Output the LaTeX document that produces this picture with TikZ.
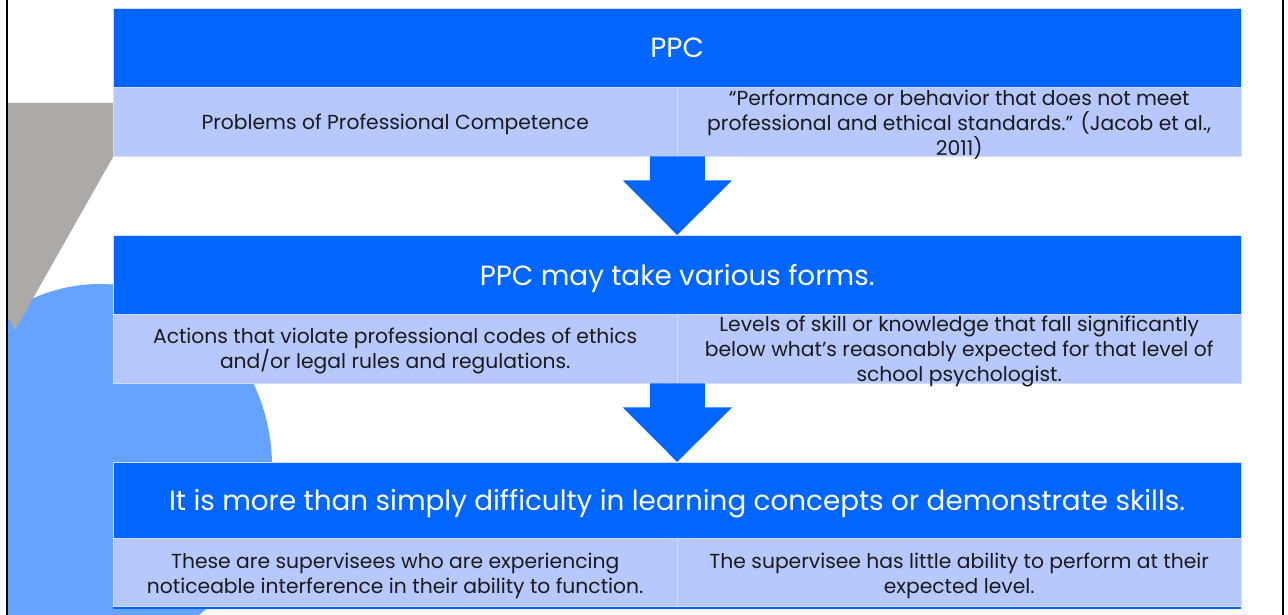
\documentclass[tikz,border=0pt]{standalone}
\usepackage{fontspec}
\setmainfont{Poppins}
\usetikzlibrary{calc}

\definecolor{hdrblue}{HTML}{0066FF}
\definecolor{cellblue}{HTML}{B7C8FF}
\definecolor{celledge}{HTML}{D3DDFF}
\definecolor{wedgegray}{HTML}{ADA9A6}
\definecolor{bubbleblue}{HTML}{66A3FF}
\definecolor{inktext}{HTML}{1A1A1A}

\begin{document}
\begin{tikzpicture}[x=1pt,y=-1pt,
  hdr/.style={draw=celledge,fill=hdrblue,text=white,anchor=north west,inner sep=0pt,
              minimum width=1128pt,minimum height=79pt,text depth=0pt,
              font=\fontsize{27.8}{32}\selectfont},
  cell/.style={draw=celledge,fill=cellblue,anchor=north west,inner sep=0pt,
               minimum width=564pt,minimum height=69pt},
  celltext/.style={text=inktext,inner sep=0pt,align=center,
                   font=\fontsize{20.3}{24.8}\selectfont},
  flow/.style={fill=hdrblue}]
\useasboundingbox (0,0) rectangle (1288,615);
% backdrop
\begin{scope}
  \clip (8,0) rectangle (1282,615);
  \fill[bubbleblue] (100,466) ellipse [x radius=172,y radius=182];
  \fill[wedgegray] (8,103) -- (113,103) -- (113,157) -- (15,330) -- (8,318) -- cycle;
\end{scope}
\draw[line width=2.2pt] (7,0) -- (7,615);
\draw[line width=2.2pt] (1283,0) -- (1283,615);
% first block
\node[hdr]  (ppc)      at (113,8)  {PPC};
\node[cell] (ppcname)  at (113,87) {};
\node[cell] (ppcquote) at (677,87) {};
\node[celltext] (ppcnametxt)  at ($(ppcname.center)+(0,3)$)  {Problems of Professional Competence};
\node[celltext] (ppcquotetxt) at ($(ppcquote.center)+(0,3)$) {“Performance or behavior that does not meet\\professional and ethical standards.” (Jacob et al.,\\2011)};
% second block
\node[hdr]  (forms)      at (113,235) {PPC may take various forms.};
\node[cell] (formsact)   at (113,314) {};
\node[cell] (formsskill) at (677,314) {};
\node[celltext] (formsacttxt)   at ($(formsact.center)+(0,2.5)$)   {Actions that violate professional codes of ethics\\and/or legal rules and regulations.};
\node[celltext] (formsskilltxt) at ($(formsskill.center)+(0,2.5)$) {Levels of skill or knowledge that fall significantly\\below what’s reasonably expected for that level of\\school psychologist.};
% third block
\node[hdr,minimum height=76pt] (more) at (113,462)
  {It is more than simply difficulty in learning concepts or demonstrate skills.};
\node[cell,minimum height=68pt] (moresup)   at (113,538) {};
\node[cell,minimum height=68pt] (morelevel) at (677,538) {};
\node[celltext] (moresuptxt)   at ($(moresup.center)+(0,3.5)$)   {These are supervisees who are experiencing\\noticeable interference in their ability to function.};
\node[celltext] (moreleveltxt) at ($(morelevel.center)+(0,3.5)$) {The supervisee has little ability to perform at their\\expected level.};
\fill[hdrblue] ($(moresup.south west)+(0,1)$) rectangle ($(morelevel.south east)+(0,2.5)$);
% block arrows
\fill[flow] ($(ppcname.south east)+(-27.5,0)$) -- ++(55,0) -- ++(0,24) -- ++(27,0)
  -- (forms.north) -- ($(ppcname.south east)+(-54.5,24)$) -- ++(27,0) -- cycle;
\fill[flow] ($(formsact.south east)+(-27.5,0)$) -- ++(55,0) -- ++(0,24) -- ++(27,0)
  -- (more.north) -- ($(formsact.south east)+(-54.5,24)$) -- ++(27,0) -- cycle;
\end{tikzpicture}
\end{document}
